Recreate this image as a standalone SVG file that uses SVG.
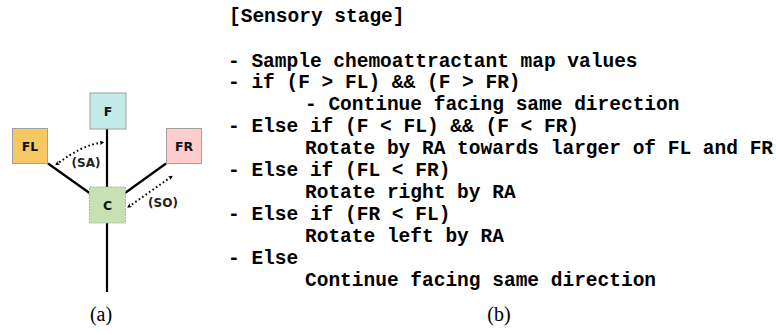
<svg xmlns="http://www.w3.org/2000/svg" width="776" height="335" viewBox="0 0 776 335">
<style>
.node{stroke:#a0a0a0;stroke-width:1}
.lbl{font-family:"DejaVu Sans",Verdana,sans-serif;font-weight:bold;font-size:12.5px;fill:#111;text-anchor:middle;dominant-baseline:central}
.ang{font-family:"DejaVu Sans",Verdana,sans-serif;font-weight:bold;font-size:12px;fill:#222;text-anchor:middle;dominant-baseline:central}
.arm{stroke:#000;stroke-width:2.2;fill:none}
.dot{stroke:#000;stroke-width:2;stroke-dasharray:1.6 2.6;fill:none}
.code{font-family:"Liberation Mono","Courier New",monospace;font-weight:bold;font-size:19.5px;fill:#000;white-space:pre}
.cap{font-family:"Liberation Serif","Times New Roman",serif;font-size:20px;fill:#000;text-anchor:middle}
</style>
<defs>
<marker id="tip" viewBox="0 0 8 8" refX="4" refY="4" markerWidth="4.5" markerHeight="4.5" orient="auto-start-reverse" markerUnits="userSpaceOnUse">
<path d="M0,0 L8,4 L0,8 L2,4 Z" fill="#000"/>
</marker>
</defs>
<g id="connectors">
<line class="arm" x1="107" y1="129" x2="107" y2="187"/>
<line class="arm" x1="107" y1="223" x2="107" y2="292"/>
<line class="arm" x1="48" y1="163.5" x2="89.5" y2="193"/>
<line class="arm" x1="166" y1="163.5" x2="125" y2="193"/>
<path class="dot" d="M102,142.5 Q82,145 57,164" marker-start="url(#tip)" marker-end="url(#tip)"/>
<line class="dot" x1="171" y1="177" x2="129" y2="206.5" marker-start="url(#tip)" marker-end="url(#tip)"/>
<text class="ang" x="86" y="163">(SA)</text>
<text class="ang" x="163" y="203">(SO)</text>
</g>
<g id="node-F">
<rect class="node" x="90" y="93" width="36" height="36" fill="#c2ebea"/>
<text class="lbl" x="108" y="111">F</text>
</g>
<g id="node-FL">
<rect class="node" x="12.5" y="128.5" width="35" height="35" fill="#f5c864"/>
<text class="lbl" x="30" y="146">FL</text>
</g>
<g id="node-FR">
<rect class="node" x="166.5" y="128.5" width="35" height="35" fill="#ffcdcd"/>
<text class="lbl" x="184" y="146">FR</text>
</g>
<g id="node-C">
<rect x="89.5" y="187" width="36" height="36" fill="#c8e0b2" stroke="#a8b8a0" stroke-width="1" stroke-dasharray="2 1"/>
<text class="lbl" x="107.5" y="205">C</text>
</g>
<g id="code">
<text class="code" x="229" y="21.5">[Sensory stage]</text>
<text class="code" x="228" y="66.5">- Sample chemoattractant map values</text>
<text class="code" x="228" y="88.3">- if (F &gt; FL) &amp;&amp; (F &gt; FR)</text>
<text class="code" x="305" y="109.5">- Continue facing same direction</text>
<text class="code" x="228" y="131.5">- Else if (F &lt; FL) &amp;&amp; (F &lt; FR)</text>
<text class="code" x="305" y="153.5">Rotate by RA towards larger of FL and FR</text>
<text class="code" x="228" y="175.5">- Else if (FL &lt; FR)</text>
<text class="code" x="305" y="197.5">Rotate right by RA</text>
<text class="code" x="228" y="219.5">- Else if (FR &lt; FL)</text>
<text class="code" x="305" y="241.5">Rotate left by RA</text>
<text class="code" x="228" y="263.5">- Else</text>
<text class="code" x="305" y="285.5">Continue facing same direction</text>
</g>
<text class="cap" x="101" y="321">(a)</text>
<text class="cap" x="499" y="321">(b)</text>
</svg>
